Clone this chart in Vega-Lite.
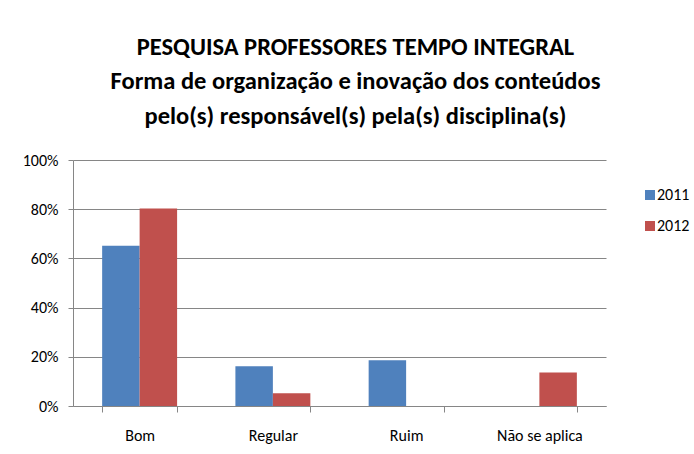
{
  "$schema": "https://vega.github.io/schema/vega-lite/v6.json",
  "width": 533,
  "height": 246,
  "autosize": {"type": "none"},
  "padding": {"left": 73, "top": 160, "right": 88, "bottom": 48},
  "background": "white",
  "title": {
    "text": ["PESQUISA PROFESSORES TEMPO INTEGRAL", "Forma de organização e inovação dos conteúdos", "pelo(s) responsável(s) pela(s) disciplina(s)"],
    "font": "Carlito, Liberation Sans Narrow, Open Sans, sans-serif",
    "fontSize": 24.5,
    "fontWeight": "bold",
    "lineHeight": 34.5,
    "anchor": "middle",
    "frame": "group",
    "dx": 16,
    "offset": 23,
    "color": "black"
  },
  "data": {
    "values": [
      {"categoria": "Bom", "ano": "2011", "valor": 0.651},
      {"categoria": "Bom", "ano": "2012", "valor": 0.803},
      {"categoria": "Regular", "ano": "2011", "valor": 0.162},
      {"categoria": "Regular", "ano": "2012", "valor": 0.052},
      {"categoria": "Ruim", "ano": "2011", "valor": 0.186},
      {"categoria": "Ruim", "ano": "2012", "valor": 0},
      {"categoria": "Não se aplica", "ano": "2011", "valor": 0},
      {"categoria": "Não se aplica", "ano": "2012", "valor": 0.136}
    ]
  },
  "mark": {"type": "bar"},
  "encoding": {
    "x": {
      "field": "categoria",
      "type": "nominal",
      "sort": ["Bom", "Regular", "Ruim", "Não se aplica"],
      "scale": {"paddingInner": 0.4375, "paddingOuter": 0.21875},
      "axis": {
        "title": null,
        "labelAngle": 0,
        "tickBand": "extent",
        "grid": false,
        "domainColor": "#868686",
        "tickColor": "#868686",
        "tickSize": 6,
        "labelPadding": 15,
        "labelFontSize": 16,
        "labelFont": "Carlito, Liberation Sans Narrow, Open Sans, sans-serif",
        "labelColor": "black"
      }
    },
    "xOffset": {"field": "ano", "type": "nominal"},
    "y": {
      "field": "valor",
      "type": "quantitative",
      "scale": {"domain": [0, 1]},
      "axis": {
        "title": null,
        "format": "%",
        "values": [0, 0.2, 0.4, 0.6, 0.8, 1],
        "gridColor": "#868686",
        "domainColor": "#868686",
        "tickColor": "#868686",
        "tickSize": 5,
        "labelPadding": 10,
        "labelFontSize": 16,
        "labelFont": "Carlito, Liberation Sans Narrow, Open Sans, sans-serif",
        "labelColor": "black"
      }
    },
    "color": {
      "field": "ano",
      "type": "nominal",
      "scale": {"range": ["#4F81BD", "#C0504D"]},
      "legend": {
        "title": null,
        "orient": "none",
        "legendX": 569,
        "legendY": 27,
        "symbolType": "square",
        "symbolSize": 100,
        "symbolStrokeWidth": 0,
        "labelFontSize": 16,
        "labelFont": "Carlito, Liberation Sans Narrow, Open Sans, sans-serif",
        "labelColor": "black",
        "labelOffset": -1,
        "rowPadding": 15
      }
    }
  },
  "config": {"view": {"stroke": null}}
}
